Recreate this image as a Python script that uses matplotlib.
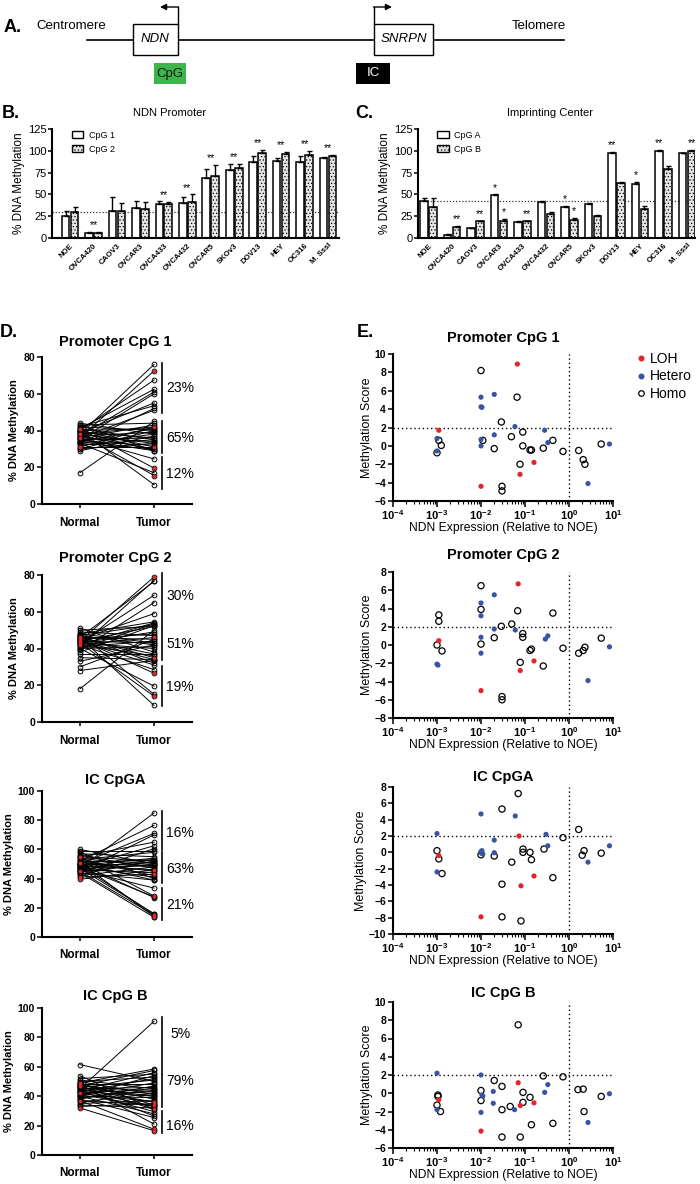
import numpy as np
import matplotlib
matplotlib.use('Agg')
import matplotlib.pyplot as plt
from matplotlib.patches import Rectangle, Patch
from matplotlib.lines import Line2D
from matplotlib.ticker import LogLocator, FixedLocator, FixedFormatter, NullFormatter

plt.rcParams['font.family'] = ['Liberation Sans', 'DejaVu Sans']
plt.rcParams['mathtext.fontset'] = 'custom'
plt.rcParams['mathtext.rm'] = 'Liberation Sans'
plt.rcParams['mathtext.bf'] = 'Liberation Sans:bold'
plt.rcParams['hatch.linewidth'] = 0.5

# ---------------- data ----------------
cell_lines = ["NOE", "OVCA420", "CAOV3", "OVCAR3", "OVCA433", "OVCA432",
              "OVCAR5", "SKOv3", "DOV13", "HEY", "OC316", "M. SssI"]
ndn_cpg1 = [25, 6, 31, 34, 39, 40, 69, 78, 87, 88, 87, 92]
ndn_cpg1_err = [6, 1, 16, 9, 3, 7, 10, 7, 7, 4, 7, 1]
ndn_cpg2 = [30, 6, 31, 33, 39, 41, 71, 80, 97, 96, 95, 94]
ndn_cpg2_err = [6, 1, 9, 8, 2, 9, 13, 5, 4, 3, 5, 1]
ndn_sig = ["", "**", "", "", "**", "**", "**", "**", "**", "**", "**", "**"]
ndn_ref = 30

ic_cpga = [43, 4, 11, 49, 18, 41, 35, 39, 97, 62, 100, 97]
ic_cpga_err = [3, 1, 1, 1, 1, 1, 2, 1, 2, 2, 1, 1]
ic_cpgb = [35, 13, 19, 20, 19, 27, 21, 25, 63, 33, 79, 100]
ic_cpgb_err = [11, 1, 1, 2, 1, 3, 2, 1, 1, 4, 3, 1]
ic_sig_a = ["", "", "", "*", "", "", "*", "", "**", "*", "**", ""]
ic_sig_b = ["", "**", "**", "*", "**", "", "*", "", "", "", "", "**"]
ic_ref = 43

# Panel D paired data (43 pairs each)
pc1_normal = [38, 36, 40, 41, 37, 35, 39, 42, 33, 36,
              17, 43, 36, 31, 38, 40, 34, 30, 42, 37, 33, 44, 29, 39, 35, 32, 41, 36, 38, 30,
              34, 31, 40, 37, 33, 43, 35, 39,
              36, 41, 33, 38, 40]
pc1_tumor = [76, 72.5, 67.5, 62.5, 61, 60, 55, 53.5, 52, 51,
             45, 44, 43, 42, 42, 41, 41, 40, 40, 39, 38, 38, 37, 36, 36, 35, 35, 34, 33, 33,
             32, 31, 31, 30, 30, 29, 29, 29,
             24.5, 19.5, 17, 15.5, 10.5]
pc1_loh = [1, 13, 31, 39, 41]

pc2_normal = [44, 41, 46, 43, 39, 45, 48, 42, 40, 47, 38, 44, 50,
              18, 43, 45, 49, 42, 30, 46, 41, 48, 44, 33, 47, 40, 43, 51, 45, 37, 42, 46, 44, 35, 28,
              47, 44, 42, 45, 40, 48, 43, 46]
pc2_tumor = [79, 77, 76.5, 69, 65, 59, 54.5, 54, 53.5, 53, 52.5, 52, 52,
             50, 49, 48, 47, 46, 45, 45, 44, 43, 43, 42, 42, 41, 40, 38, 37, 37, 36, 35, 34, 34, 33.5,
             32, 31, 28.5, 26.5, 19.5, 15, 14, 9]
pc2_loh = [0, 17, 31, 38, 41]

ica_normal = [47, 52, 50, 45, 55, 48, 44,
              59, 53, 57, 49, 46, 51, 55, 43, 48, 52, 60, 45, 50, 47, 54, 42, 56, 39.5, 49, 51,
              46, 41, 53, 48, 58, 44, 50,
              46, 55, 48, 50, 47, 49, 45, 51, 44]
ica_tumor = [85, 76.5, 71, 70, 65, 62.5, 60.5,
             59, 58, 55, 54, 53, 53, 52, 52, 51, 51, 50, 50, 49, 49, 48, 48, 47, 46, 46, 45,
             44, 43, 42, 41, 40, 39, 39,
             33.5, 28, 27.5, 27, 16, 15.5, 15, 14, 13.5]
ica_loh = [24, 28, 35, 41, 40]

icb_normal = [45, 49,
              47, 44, 52, 40, 50, 43, 46, 61.5, 41, 48, 38, 45, 51, 42, 39, 47, 44, 36, 50, 43,
              46, 40, 48, 35, 42, 45, 33, 49, 37, 44, 41, 34, 47, 54,
              43, 40, 46, 38, 48, 37, 32]
icb_tumor = [91, 58.5,
             57.5, 56, 55, 54, 53, 52, 51, 50, 49, 48, 47, 46, 45, 45, 44, 43, 42, 42, 41, 40,
             40, 39, 38, 37, 36, 36, 35, 34, 34, 33, 33, 32, 31, 31,
             29.5, 28, 26.5, 25.5, 21, 17.5, 16.5]
icb_loh = [26, 29, 34, 41, 42]

pc1_brackets = [(49.5, 77), (27.5, 45), (8, 25.5)]
pc1_pct = ["23%", "65%", "12%"]
pc1_pct_y = [63, 36, 16.5]
pc2_brackets = [(51, 81), (33.5, 50.5), (8.5, 30.5)]
pc2_pct = ["30%", "51%", "19%"]
pc2_pct_y = [68.5, 42.5, 19]
ica_brackets = [(59.5, 86.5), (37, 58.2), (11.4, 33.8)]
ica_pct = ["16%", "63%", "21%"]
ica_pct_y = [71.5, 46.8, 22]
icb_brackets = [(55.4, 94), (32.8, 54.3), (14.7, 30)]
icb_pct = ["5%", "79%", "16%"]
icb_pct_y = [82.6, 50.5, 20]

# Panel E scatter data
e1_loh_x = [1.1e-3, 0.067, 0.16, 0.077, 0.01]
e1_loh_y = [1.7, 8.9, -1.8, -3.1, -4.4]
e1_het_x = [1e-3, 1e-3, 0.01, 0.01, 0.0105, 0.02, 0.01, 0.01, 0.02, 0.059, 0.28, 0.33, 2.7, 8.3]
e1_het_y = [0.8, -0.55, 5.3, 4.25, 4.2, 5.6, 0.7, 0.0, 1.2, 2.1, 1.7, 0.35, -4.1, 0.2]
e1_hom_x = [0.01, 0.066, 0.029, 1.1e-3, 1.25e-3, 1e-3, 0.011, 0.02, 0.049, 0.089, 0.089,
            0.077, 0.13, 0.14, 0.26, 0.43, 0.73, 1.66, 2.1, 2.3, 5.4, 0.03, 0.03]
e1_hom_y = [8.2, 5.3, 2.6, 0.6, 0.05, -0.75, 0.6, -0.3, 1.0, 1.5, 0.0,
            -2.0, -0.45, -0.45, -0.25, 0.6, -0.6, -0.5, -1.5, -2.0, 0.2, -4.4, -4.9]

e2_loh_x = [1.1e-3, 0.07, 0.16, 0.078, 0.01]
e2_loh_y = [0.47, 6.7, -1.75, -2.8, -5.0]
e2_het_x = [1e-3, 1.05e-3, 0.01, 0.01, 0.02, 0.01, 0.01, 0.02, 0.06, 0.29, 0.33, 2.7, 8.3]
e2_het_y = [-2.1, -2.2, 4.6, 3.2, 5.5, 0.85, -0.9, 1.75, 1.65, 0.65, 1.0, -3.9, -0.2]
e2_hom_x = [0.01, 0.068, 0.029, 1.1e-3, 1.1e-3, 1e-3, 1.3e-3, 0.01, 0.01, 0.02, 0.05, 0.089,
            0.089, 0.078, 0.13, 0.14, 0.26, 0.43, 0.73, 1.66, 2.1, 2.3, 5.4, 0.03, 0.03]
e2_hom_y = [6.5, 3.75, 2.05, 3.3, 2.6, 0.0, -0.65, 3.9, 0.1, 0.8, 2.3, 1.25,
            0.85, -1.9, -0.6, -0.45, -2.3, 3.5, -0.35, -0.9, -0.6, -0.25, 0.75, -5.65, -6.0]

e3_loh_x = [1.1e-3, 0.073, 0.16, 0.081, 0.01]
e3_loh_y = [-0.4, 2.0, -2.9, -4.1, -7.9]
e3_het_x = [1e-3, 1e-3, 0.01, 0.06, 0.02, 0.01, 0.0105, 0.0102, 0.011, 0.02, 0.3, 0.33, 2.7, 8.3]
e3_het_y = [2.3, -2.4, 4.7, 4.45, 1.5, 0.1, 0.2, -0.1, -0.2, -0.05, 2.2, 0.8, -1.2, 0.8]
e3_hom_x = [0.07, 0.03, 1e-3, 1.1e-3, 1.3e-3, 0.01, 0.02, 0.05, 0.09, 0.09, 0.13, 0.14,
            0.27, 0.43, 0.73, 1.66, 2.2, 2.0, 5.4, 0.03, 0.03, 0.081]
e3_hom_y = [7.2, 5.3, 0.2, -0.8, -2.6, -0.3, -0.45, -1.2, 0.4, 0.0, 0.0, -0.9,
            0.4, -3.1, 1.8, 2.8, 0.2, -0.35, -0.1, -3.9, -7.9, -8.4]

e4_loh_x = [1.1e-3, 0.07, 0.16, 0.078, 0.01]
e4_loh_y = [-0.7, 1.15, -1.05, -1.35, -4.15]
e4_het_x = [1e-3, 1e-3, 0.01, 0.01, 0.0105, 0.011, 0.019, 0.019, 0.058, 0.28, 0.33, 2.7, 8.3]
e4_het_y = [2.2, -1.8, 2.0, -2.1, -0.2, -0.3, 0.2, -1.1, -1.8, 0.1, 0.95, -3.2, -0.05]
e4_hom_x = [0.07, 1.05e-3, 1.05e-3, 1e-3, 1.2e-3, 0.01, 0.01, 0.02, 0.03, 0.03, 0.046, 0.09,
            0.09, 0.13, 0.14, 0.26, 0.43, 0.73, 1.6, 2.1, 2.2, 5.4, 0.03, 0.078]
e4_hom_y = [7.5, -0.2, -0.35, -1.3, -2.0, 0.3, -0.8, 1.4, 0.75, -1.8, -1.45, 0.1,
            -1.0, -0.45, -3.45, 1.9, -3.3, 1.8, 0.4, 0.45, -2.0, -0.35, -4.8, -4.8]

RED = '#e3242b'
BLUE = '#3a54a4'

# ---------------- figure ----------------
W, H = 700, 1184
fig = plt.figure(figsize=(7, 11.84), dpi=100)


def px_axes(x0, y0, x1, y1):
    return fig.add_axes([x0 / W, 1 - y1 / H, (x1 - x0) / W, (y1 - y0) / H])


def ftext(x, y, s, **kw):
    kw.setdefault('va', 'center')
    fig.text(x / W, 1 - y / H, s, **kw)


# ---------------- Panel A ----------------
axA = px_axes(0, 0, 700, 100)
axA.set_xlim(0, 700)
axA.set_ylim(100, 0)
axA.axis('off')
axA.plot([87, 564], [40, 40], color='black', lw=1.2)
axA.add_patch(Rectangle((133, 24), 45, 31, facecolor='white', edgecolor='black', lw=1, zorder=3))
axA.add_patch(Rectangle((374, 24), 59, 31, facecolor='white', edgecolor='black', lw=1, zorder=3))
axA.text(155.5, 39.5, "NDN", style='italic', ha='center', va='center', fontsize=9.5, zorder=4)
axA.text(403.5, 39.5, "SNRPN", style='italic', ha='center', va='center', fontsize=9.5, zorder=4)
axA.text(36, 26, "Centromere", ha='left', va='center', fontsize=9.5)
axA.text(566, 26, "Telomere", ha='right', va='center', fontsize=9.5)
axA.plot([178, 178], [24, 7], color='black', lw=1)
axA.annotate("", xy=(160, 7), xytext=(178.5, 7),
             arrowprops=dict(arrowstyle='-|>', color='black', lw=1, mutation_scale=9,
                             shrinkA=0, shrinkB=0))
axA.plot([374, 374], [24, 7], color='black', lw=1)
axA.annotate("", xy=(392, 7), xytext=(373.5, 7),
             arrowprops=dict(arrowstyle='-|>', color='black', lw=1, mutation_scale=9,
                             shrinkA=0, shrinkB=0))
axA.add_patch(Rectangle((154, 63), 32, 21, facecolor='#3db54a', edgecolor='none'))
axA.text(170, 73.5, "CpG", ha='center', va='center', fontsize=9.5, color='#1a1a1a')
axA.add_patch(Rectangle((356, 63), 34, 21, facecolor='black', edgecolor='none'))
axA.text(373, 73.5, "IC", ha='center', va='center', fontsize=9.5, color='white')
ftext(4, 28, "A.", fontsize=13, fontweight='bold', ha='left')


# ---------------- Panels B, C ----------------
def bar_panel(x0, x1, xlim, vals1, err1, vals2, err2, labels, leg, ref, title, title_x,
              sig_a=None, sig_b=None, sig_group=None):
    ax = px_axes(x0, 129, x1, 238)
    x = np.arange(len(labels))
    bw = 0.33
    off = 0.19
    ax.bar(x - off, vals1, bw, facecolor='white', edgecolor='black', lw=1.1, zorder=2)
    ax.bar(x + off, vals2, bw, facecolor='#e4e4e4', edgecolor='black', lw=1.1,
           hatch='.....', zorder=2)
    ax.errorbar(x - off, vals1, yerr=[np.zeros(len(x)), err1], fmt='none', ecolor='black',
                elinewidth=1, capsize=1.8, capthick=1, zorder=3)
    ax.errorbar(x + off, vals2, yerr=[np.zeros(len(x)), err2], fmt='none', ecolor='black',
                elinewidth=1, capsize=1.8, capthick=1, zorder=3)
    ax.axhline(ref, color='#333333', lw=0.9, ls=(0, (1, 1.5)), zorder=1)
    top1 = np.array(vals1) + np.array(err1)
    top2 = np.array(vals2) + np.array(err2)
    if sig_group is not None:
        for i, s in enumerate(sig_group):
            if s:
                ax.text(x[i], max(top1[i], top2[i]) + 2, s, ha='center', va='bottom',
                        fontsize=7.5)
    if sig_a is not None:
        for i, s in enumerate(sig_a):
            if s:
                ax.text(x[i] - off, top1[i] + 2, s, ha='center', va='bottom', fontsize=7.5)
        for i, s in enumerate(sig_b):
            if s:
                ax.text(x[i] + off, top2[i] + 2, s, ha='center', va='bottom', fontsize=7.5)
    ax.set_xlim(*xlim)
    ax.set_ylim(0, 125)
    ax.set_yticks([0, 25, 50, 75, 100, 125])
    ax.set_xticks(x)
    ax.set_xticklabels(labels, rotation=45, ha='right', rotation_mode='anchor',
                       fontsize=5.6, fontweight='bold')
    ax.tick_params(axis='x', length=0, pad=3)
    ax.tick_params(axis='y', labelsize=8, length=3, width=1.1, pad=1)
    for s in ['top', 'right']:
        ax.spines[s].set_visible(False)
    for s in ['left', 'bottom']:
        ax.spines[s].set_linewidth(1.5)
    ax.set_ylabel("% DNA Methylation", fontsize=8.5, labelpad=2)
    handles = [Patch(facecolor='white', edgecolor='black', lw=1),
               Patch(facecolor='#e4e4e4', edgecolor='black', lw=1, hatch='.....')]
    ax.legend(handles, leg, loc='upper left', bbox_to_anchor=(0.04, 1.06), frameon=False,
              fontsize=6.5, handlelength=1.3, handleheight=0.8, labelspacing=0.55,
              handletextpad=0.6)
    ftext(title_x, 113, title, fontsize=8, ha='center')
    return ax


bar_panel(52, 339, (-0.77, 11.47), ndn_cpg1, ndn_cpg1_err, ndn_cpg2, ndn_cpg2_err,
          cell_lines, ["CpG 1", "CpG 2"], ndn_ref, "NDN Promoter", 170, sig_group=ndn_sig)
bar_panel(418, 695, (-0.45, 11.34), ic_cpga, ic_cpga_err, ic_cpgb, ic_cpgb_err,
          cell_lines, ["CpG A", "CpG B"], ic_ref, "Imprinting Center", 550,
          sig_a=ic_sig_a, sig_b=ic_sig_b)
ftext(2, 113, "B.", fontsize=13, fontweight='bold', ha='left')
ftext(355, 113, "C.", fontsize=13, fontweight='bold', ha='left')


# ---------------- Panel D ----------------
def paired(top, bottom, ymax, normal, tumor, loh, brackets, pct, pct_y, title, title_y):
    ax = px_axes(42, top, 192, bottom)
    normal = np.asarray(normal, float)
    tumor = np.asarray(tumor, float)
    for n, t in zip(normal, tumor):
        ax.plot([0, 1], [n, t], color='black', lw=0.7, zorder=2)
    ax.plot(np.zeros(len(normal)), normal, 'o', mfc='none', mec='black', ms=3.4, mew=0.7,
            zorder=3, clip_on=False)
    ax.plot(np.ones(len(tumor)), tumor, 'o', mfc='none', mec='black', ms=3.4, mew=0.7,
            zorder=3, clip_on=False)
    ax.plot(np.zeros(len(loh)), normal[loh], 'o', mfc=RED, mec='none', ms=2.7, zorder=4)
    ax.plot(np.ones(len(loh)), tumor[loh], 'o', mfc=RED, mec='none', ms=2.7, zorder=4)
    for (lo, hi), p, py in zip(brackets, pct, pct_y):
        ax.plot([1.11, 1.11], [lo, hi], color='black', lw=1.2, clip_on=False)
        ax.text(1.35, py, p, ha='center', va='center', fontsize=10)
    ax.set_xlim(-0.51, 1.51)
    ax.set_ylim(0, ymax)
    ax.set_yticks(np.arange(0, ymax + 1, 20))
    ax.set_xticks([0, 1])
    ax.set_xticklabels(["Normal", "Tumor"], fontsize=8.5, fontweight='bold')
    ax.tick_params(axis='x', length=3, width=1.1, pad=6)
    ax.tick_params(axis='y', length=3.5, width=1.1, labelsize=7.5, pad=1.5)
    for lab in ax.get_yticklabels():
        lab.set_fontweight('bold')
    for s in ['top', 'right']:
        ax.spines[s].set_visible(False)
    for s in ['left', 'bottom']:
        ax.spines[s].set_linewidth(1.5)
    ax.set_ylabel("% DNA Methylation", fontsize=8, fontweight='bold', labelpad=3)
    ftext(115, title_y, title, fontsize=10.5, fontweight='bold', ha='center')
    return ax


paired(357, 504, 80, pc1_normal, pc1_tumor, pc1_loh, pc1_brackets, pc1_pct, pc1_pct_y,
       "Promoter CpG 1", 342)
paired(575, 722, 80, pc2_normal, pc2_tumor, pc2_loh, pc2_brackets, pc2_pct, pc2_pct_y,
       "Promoter CpG 2", 558)
paired(791, 937, 100, ica_normal, ica_tumor, ica_loh, ica_brackets, ica_pct, ica_pct_y,
       "IC CpGA", 780)
paired(1008, 1155, 100, icb_normal, icb_tumor, icb_loh, icb_brackets, icb_pct, icb_pct_y,
       "IC CpG B", 996)
ftext(0, 332, "D.", fontsize=13, fontweight='bold', ha='left')


# ---------------- Panel E ----------------
def scatter_panel(top, bottom, ylim, lx, ly, hx, hy, ox, oy, title, title_y):
    ax = px_axes(393, top, 613, bottom)
    ax.set_xscale('log')
    ax.axhline(2, color='black', lw=1, ls=(0, (1, 2)), zorder=1)
    ax.axvline(1, color='black', lw=1, ls=(0, (1, 2)), zorder=1)
    s_open = ax.scatter(ox, oy, s=20, facecolors='none', edgecolors='black', linewidths=0.9,
                        zorder=3, clip_on=False)
    s_het = ax.scatter(hx, hy, s=14, color=BLUE, edgecolors='none', zorder=4, clip_on=False)
    s_loh = ax.scatter(lx, ly, s=14, color=RED, edgecolors='none', zorder=4, clip_on=False)
    ax.set_xlim(1e-4, 1e1)
    ax.set_ylim(*ylim)
    ax.set_yticks(np.arange(ylim[0], ylim[1] + 1, 2))
    ax.xaxis.set_major_locator(FixedLocator([1e-4, 1e-3, 1e-2, 1e-1, 1e0, 1e1]))
    ax.xaxis.set_major_formatter(FixedFormatter(
        [r'$\mathbf{10^{-4}}$', r'$\mathbf{10^{-3}}$', r'$\mathbf{10^{-2}}$',
         r'$\mathbf{10^{-1}}$', r'$\mathbf{10^{0}}$', r'$\mathbf{10^{1}}$']))
    ax.xaxis.set_minor_locator(LogLocator(base=10, subs=np.arange(2, 10), numticks=20))
    ax.xaxis.set_minor_formatter(NullFormatter())
    ax.tick_params(axis='x', which='major', length=4, width=1.1, labelsize=8, pad=1.5)
    ax.tick_params(axis='x', which='minor', length=2.2, width=0.8)
    ax.tick_params(axis='y', length=3.5, width=1.1, labelsize=7.5, pad=1.5)
    for lab in ax.get_yticklabels():
        lab.set_fontweight('bold')
    for s in ['top', 'right']:
        ax.spines[s].set_visible(False)
    for s in ['left', 'bottom']:
        ax.spines[s].set_linewidth(1.5)
    ax.set_xlabel("NDN Expression (Relative to NOE)", fontsize=8.7, labelpad=0)
    ax.set_ylabel("Methylation Score", fontsize=9, labelpad=1)
    ftext(503, title_y, title, fontsize=10.5, fontweight='bold', ha='center')
    return ax, (s_loh, s_het, s_open)


axE1, hs = scatter_panel(354, 501, (-6, 10), e1_loh_x, e1_loh_y, e1_het_x, e1_het_y,
                         e1_hom_x, e1_hom_y, "Promoter CpG 1", 338)
scatter_panel(572, 718, (-8, 8), e2_loh_x, e2_loh_y, e2_het_x, e2_het_y,
              e2_hom_x, e2_hom_y, "Promoter CpG 2", 555)
scatter_panel(787, 934, (-10, 8), e3_loh_x, e3_loh_y, e3_het_x, e3_het_y,
              e3_hom_x, e3_hom_y, "IC CpGA", 777)
scatter_panel(1002, 1148, (-6, 10), e4_loh_x, e4_loh_y, e4_het_x, e4_het_y,
              e4_hom_x, e4_hom_y, "IC CpG B", 993)
ftext(357, 332, "E.", fontsize=13, fontweight='bold', ha='left')

leg_handles = [Line2D([], [], ls='none', marker='o', ms=3.3, mfc=RED, mec=RED),
               Line2D([], [], ls='none', marker='o', ms=3.3, mfc=BLUE, mec=BLUE),
               Line2D([], [], ls='none', marker='o', ms=4.0, mfc='none', mec='black', mew=0.9)]
axE1.legend(leg_handles, ["LOH", "Hetero", "Homo"], loc='upper left',
            bbox_to_anchor=(628 / W, 1 - 345 / H), bbox_transform=fig.transFigure,
            frameon=False, fontsize=10, handlelength=0.8, handletextpad=0.3,
            labelspacing=0.25, borderpad=0)

fig.savefig('out.png', dpi=100)
